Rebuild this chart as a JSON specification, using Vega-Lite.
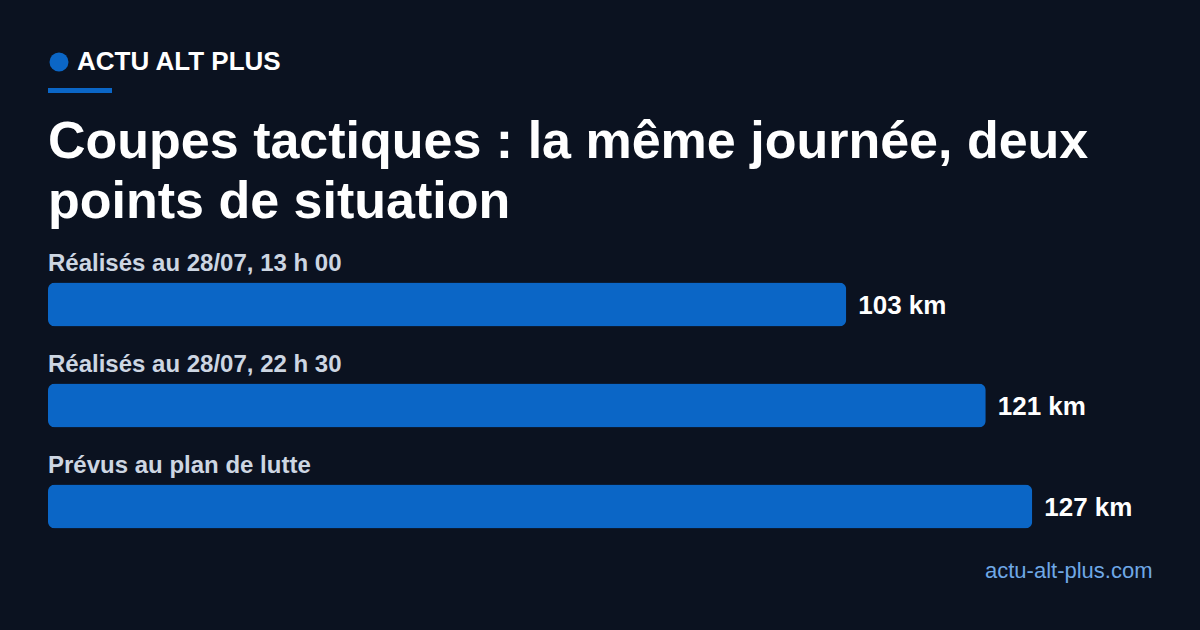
{
  "$schema": "https://vega.github.io/schema/vega-lite/v6.json",
  "autosize": {"type": "none"},
  "width": 1200,
  "height": 390,
  "padding": {"top": 240, "left": 0, "right": 0, "bottom": 0},
  "background": "#0b1220",
  "title": {
    "text": ["Coupes tactiques : la même journée, deux", "points de situation"],
    "anchor": "start",
    "frame": "group",
    "dx": 48,
    "offset": -180,
    "font": "Liberation Sans",
    "fontSize": 52,
    "fontWeight": "bold",
    "color": "#ffffff",
    "lineHeight": 60
  },
  "data": {
    "values": [
      {"label": "Réalisés au 28/07, 13 h 00", "km": 103},
      {"label": "Réalisés au 28/07, 22 h 30", "km": 121},
      {"label": "Prévus au plan de lutte", "km": 127}
    ]
  },
  "transform": [{"calculate": "datum.km + ' km'", "as": "kmText"}],
  "encoding": {
    "y": {
      "field": "label",
      "type": "nominal",
      "axis": null,
      "scale": {
        "domain": ["Réalisés au 28/07, 13 h 00", "Réalisés au 28/07, 22 h 30", "Prévus au plan de lutte"],
        "range": [14, 317],
        "paddingInner": 0,
        "paddingOuter": 0
      }
    }
  },
  "layer": [
    {
      "mark": {"type": "bar", "height": 44, "cornerRadius": 7},
      "encoding": {
        "x": {
          "field": "km",
          "type": "quantitative",
          "scale": {"domain": [0, 100], "range": [48, 823], "nice": false},
          "axis": {
            "labels": false,
            "ticks": false,
            "domain": false,
            "grid": false,
            "title": "actu-alt-plus.com",
            "titleFont": "Liberation Sans",
            "titleFontSize": 22,
            "titleFontWeight": "normal",
            "titleColor": "#6fa8e6",
            "titleAlign": "right",
            "titleBaseline": "alphabetic",
            "titleX": 1152,
            "titleY": -53
          }
        },
        "color": {
          "datum": "ACTU ALT PLUS",
          "scale": {"range": ["#0b66c6"]},
          "legend": {
            "orient": "none",
            "legendX": 46,
            "legendY": -191,
            "title": null,
            "padding": 0,
            "symbolType": "circle",
            "symbolSize": 360,
            "symbolStrokeWidth": 0,
            "symbolOpacity": 1,
            "labelFont": "Liberation Sans",
            "labelFontSize": 26,
            "labelFontWeight": "bold",
            "labelColor": "#ffffff",
            "labelOffset": 5,
            "labelLimit": 400
          }
        }
      }
    },
    {
      "mark": {
        "type": "text",
        "align": "left",
        "baseline": "alphabetic",
        "dy": -34,
        "font": "Liberation Sans",
        "fontSize": 24,
        "fontWeight": "bold",
        "color": "#cdd6e2"
      },
      "encoding": {
        "x": {"datum": 0, "type": "quantitative"},
        "text": {"field": "label"}
      }
    },
    {
      "mark": {
        "type": "text",
        "align": "left",
        "baseline": "middle",
        "dx": 12,
        "dy": 1,
        "font": "Liberation Sans",
        "fontSize": 26,
        "fontWeight": "bold",
        "color": "#ffffff"
      },
      "encoding": {
        "x": {"field": "km", "type": "quantitative"},
        "text": {"field": "kmText"}
      }
    },
    {
      "data": {"values": [{}]},
      "mark": {"type": "rule", "strokeWidth": 5, "color": "#0b66c6", "strokeCap": "butt"},
      "encoding": {
        "x": {"value": 48},
        "x2": {"value": 112},
        "y": {"value": -149.5}
      }
    }
  ],
  "config": {
    "view": {"stroke": null},
    "font": "Liberation Sans"
  }
}
